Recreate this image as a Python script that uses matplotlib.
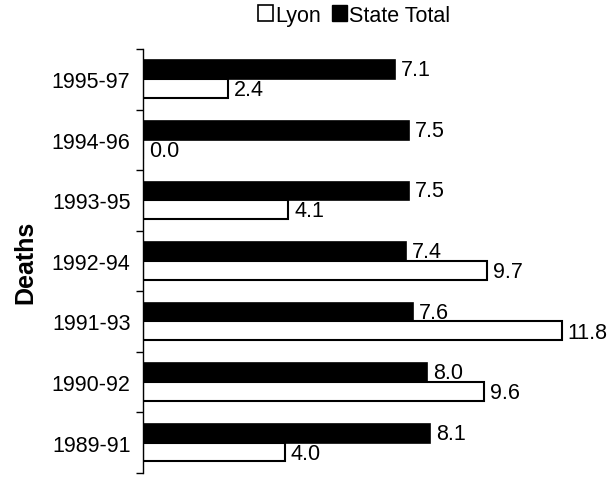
import numpy as np
import matplotlib.pyplot as plt
from matplotlib.patches import Patch

plt.rcParams['font.family'] = ['Liberation Sans', 'DejaVu Sans']

periods = ['1995-97', '1994-96', '1993-95', '1992-94', '1991-93', '1990-92', '1989-91']
lyon = [2.4, 0.0, 4.1, 9.7, 11.8, 9.6, 4.0]
state_total = [7.1, 7.5, 7.5, 7.4, 7.6, 8.0, 8.1]

fig = plt.figure(figsize=(6.15, 4.85), dpi=100)
ax = fig.add_axes([0.2325, 0.023, 0.75, 0.874])

y = np.arange(len(periods))
h = 0.31
ax.barh(y - h / 2, state_total, height=h, color='black', edgecolor='black', linewidth=1.2)
ax.barh(y + h / 2, lyon, height=h, color='white', edgecolor='black', linewidth=1.5)

fs = 15.5
for yi, v in zip(y, state_total):
    ax.text(v + 0.17, yi - h / 2, f'{v:.1f}', va='center', ha='left', fontsize=fs)
for yi, v in zip(y, lyon):
    ax.text(v + 0.17, yi + h / 2 + 0.02, f'{v:.1f}', va='center', ha='left', fontsize=fs)

ax.set_xlim(0, 13)
ax.set_ylim(len(periods) - 0.5, -0.5)
ax.set_yticks(y)
ax.set_yticklabels(periods, fontsize=fs)
ax.set_yticks(np.arange(-0.5, len(periods)), minor=True)
ax.tick_params(axis='y', which='major', length=0, pad=9)
ax.tick_params(axis='y', which='minor', length=5, width=1, direction='out')
ax.set_xticks([])
for s in ['top', 'right', 'bottom']:
    ax.spines[s].set_visible(False)
ax.spines['left'].set_linewidth(1)

ax.set_ylabel('Deaths', fontsize=18, fontweight='bold', labelpad=10)

handles = [Patch(facecolor='white', edgecolor='black', linewidth=1.2, label='Lyon'),
           Patch(facecolor='black', edgecolor='black', label='State Total')]
fig.legend(handles=handles, loc='center', bbox_to_anchor=(0.576, 0.967), ncol=2,
           frameon=False, fontsize=fs, handlelength=0.7, handleheight=0.7,
           handletextpad=0.1, columnspacing=0.5)

fig.savefig('out.png', dpi=100)
